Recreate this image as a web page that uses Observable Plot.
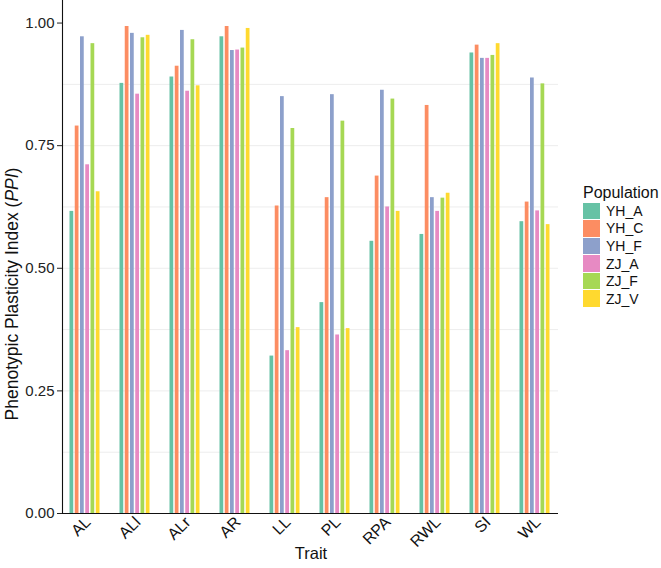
<!DOCTYPE html>
<html>
<head>
<meta charset="utf-8">
<script src="https://cdn.jsdelivr.net/npm/d3@7"></script>
<script src="https://cdn.jsdelivr.net/npm/@observablehq/plot@0.6"></script>
<style>
  body { margin: 0; background: #fff; font-family: "Liberation Sans", Arial, sans-serif; }
  #wrap { position: relative; width: 661px; height: 568px; overflow: hidden; }
  #chart { position: absolute; left: 0; top: 0; }
  #ylab { position: absolute; left: 12px; top: 294px; transform: translate(-50%, -50%) rotate(-90deg); white-space: nowrap; font-size: 17.5px; color: #111; }
  #xlab { position: absolute; left: 311px; top: 553px; transform: translate(-50%, -50%); font-size: 16.5px; color: #111; }
  #legend { position: absolute; left: 583px; top: 184px; color: #111; }
  #legend .title { font-size: 16px; margin-bottom: 0px; }
  #legend .item { display: flex; align-items: center; height: 17.6px; }
  #legend .sw { width: 17px; height: 16.6px; margin-right: 6px; }
  #legend .lab { font-size: 14px; }
</style>
</head>
<body>
<div id="wrap">
  <div id="chart"></div>
  <div id="ylab">Phenotypic Plasticity Index (<i>PPI</i>)</div>
  <div id="xlab">Trait</div>
  <div id="legend"></div>
</div>
<script>
const traits = ["AL", "ALl", "ALr", "AR", "LL", "PL", "RPA", "RWL", "SI", "WL"];
const populations = ["YH_A", "YH_C", "YH_F", "ZJ_A", "ZJ_F", "ZJ_V"];
const colors = ["#66C2A5", "#FC8D62", "#8DA0CB", "#E78AC3", "#A6D854", "#FFD92F"];
const YH_A = [0.616, 0.877, 0.890, 0.972, 0.321, 0.430, 0.555, 0.569, 0.939, 0.595];
const YH_C = [0.790, 0.993, 0.912, 0.993, 0.627, 0.644, 0.688, 0.832, 0.955, 0.635];
const YH_F = [0.972, 0.979, 0.985, 0.944, 0.850, 0.854, 0.863, 0.644, 0.928, 0.888];
const ZJ_A = [0.711, 0.855, 0.861, 0.945, 0.332, 0.364, 0.625, 0.616, 0.928, 0.617];
const ZJ_F = [0.958, 0.970, 0.966, 0.949, 0.785, 0.800, 0.845, 0.643, 0.934, 0.876];
const ZJ_V = [0.656, 0.975, 0.872, 0.989, 0.379, 0.377, 0.616, 0.653, 0.958, 0.589];
const yTicks = [0, 0.25, 0.5, 0.75, 1.0];
const gridValues = [0.125, 0.25, 0.375, 0.5, 0.625, 0.75, 0.875];

const series = {YH_A, YH_C, YH_F, ZJ_A, ZJ_F, ZJ_V};
const rows = populations.flatMap(p => traits.map((t, i) => ({trait: t, pop: p, value: series[p][i]})));

const W = 661, H = 568;
const mL = 62, mR = 103, mT = 0, mB = 55;
const bandInner = 0.376, bandOuter = 0.1;
const step = (W - mL - mR) / (traits.length - bandInner + 2 * bandOuter);
const bw = step * (1 - bandInner);
const sub = bw / populations.length;

const barMarks = populations.map((p, i) =>
  Plot.barY(rows.filter(d => d.pop === p), {
    x: "trait", y: "value", fill: "pop",
    insetLeft: i * sub + 0.5,
    insetRight: (populations.length - 1 - i) * sub + 0.5
  })
);

const chart = Plot.plot({
  width: W, height: H,
  marginLeft: mL, marginRight: mR, marginTop: mT, marginBottom: mB,
  style: {fontFamily: '"Liberation Sans", Arial, sans-serif', background: "#fff"},
  x: {type: "band", domain: traits, paddingInner: bandInner, paddingOuter: bandOuter, label: null},
  y: {domain: [0, 1.046], label: null},
  color: {domain: populations, range: colors},
  marks: [
    Plot.ruleY(gridValues, {stroke: "#ededed", strokeWidth: 1}),
    ...barMarks,
    Plot.ruleY([0], {stroke: "#111", strokeWidth: 1.1}),
    Plot.frame({anchor: "left", stroke: "#111", strokeWidth: 1.1}),
    Plot.axisY({ticks: yTicks, tickFormat: d3.format(".2f"), tickSize: 5, tickPadding: 3, fontSize: 15, color: "#222", label: null}),
    Plot.axisX({tickSize: 0, tickRotate: -45, tickPadding: 6, dx: 3, fontSize: 16, color: "#111", label: null})
  ]
});
document.getElementById("chart").appendChild(chart);

const leg = document.getElementById("legend");
const t = document.createElement("div");
t.className = "title"; t.textContent = "Population";
leg.appendChild(t);
populations.forEach((p, i) => {
  const it = document.createElement("div"); it.className = "item";
  const sw = document.createElement("div"); sw.className = "sw"; sw.style.background = colors[i];
  const lb = document.createElement("div"); lb.className = "lab"; lb.textContent = p;
  it.appendChild(sw); it.appendChild(lb); leg.appendChild(it);
});
</script>
</body>
</html>
